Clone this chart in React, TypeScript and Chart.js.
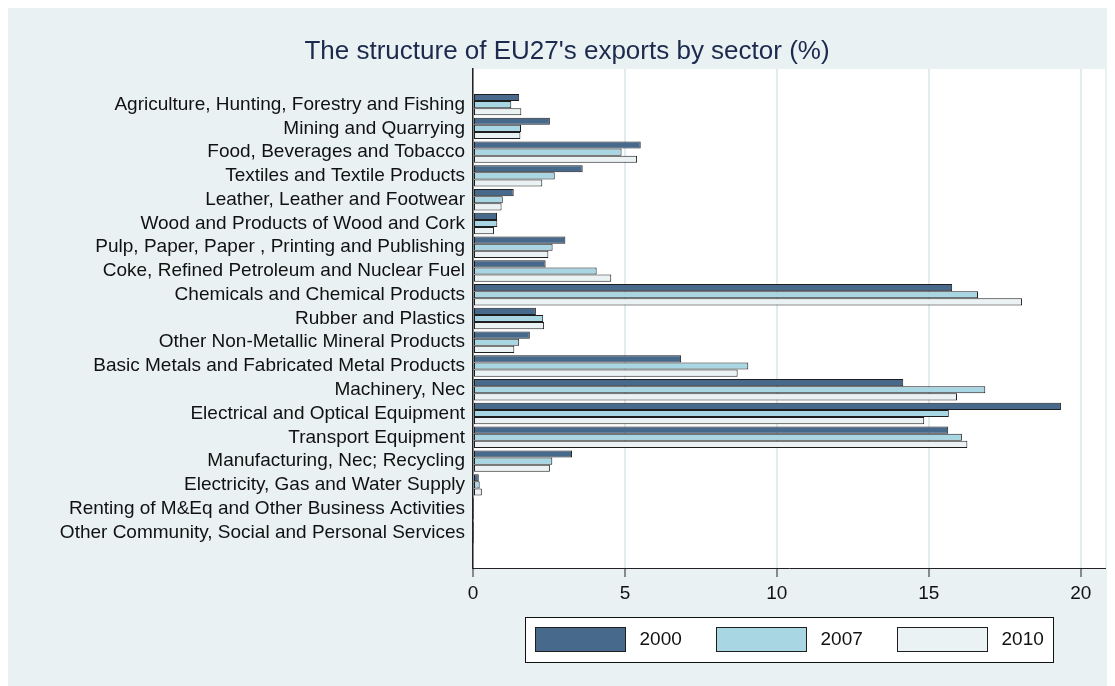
import React, { useEffect, useRef } from "react";
import { Chart, registerables } from "chart.js";

Chart.register(...registerables);

const sectors = [
  "Agriculture, Hunting, Forestry and Fishing",
  "Mining and Quarrying",
  "Food, Beverages and Tobacco",
  "Textiles and Textile Products",
  "Leather, Leather and Footwear",
  "Wood and Products of Wood and Cork",
  "Pulp, Paper, Paper , Printing and Publishing",
  "Coke, Refined Petroleum and Nuclear Fuel",
  "Chemicals and Chemical Products",
  "Rubber and Plastics",
  "Other Non-Metallic Mineral Products",
  "Basic Metals and Fabricated Metal Products",
  "Machinery, Nec",
  "Electrical and Optical Equipment",
  "Transport Equipment",
  "Manufacturing, Nec; Recycling",
  "Electricity, Gas and Water Supply",
  "Renting of M&Eq and Other Business Activities",
  "Other Community, Social and Personal Services",
];

const seriesNames = ["2000", "2007", "2010"];

const v2000 = [1.52, 2.53, 5.52, 3.61, 1.34, 0.79, 3.04, 2.39, 15.77, 2.07, 1.87, 6.85, 14.16, 19.35, 15.64, 3.26, 0.19, 0.01, 0.01];
const v2007 = [1.26, 1.58, 4.89, 2.69, 0.98, 0.8, 2.62, 4.07, 16.62, 2.31, 1.52, 9.06, 16.86, 15.66, 16.09, 2.61, 0.22, 0.01, 0.01];
const v2010 = [1.59, 1.56, 5.4, 2.28, 0.94, 0.69, 2.48, 4.55, 18.07, 2.34, 1.36, 8.71, 15.93, 14.85, 16.27, 2.53, 0.29, 0.01, 0.01];

const xTicks = [0, 5, 10, 15, 20];

const fills = ["#47698b", "#a9d6e3", "#eaf2f4"];
const edge = "#1e1e1e";
const FONT = "'Liberation Sans', Arial, Helvetica, sans-serif";

const bgPlugin = {
  id: "bgPlugin",
  beforeDraw(chart: any) {
    const { ctx, chartArea: ca, width, height } = chart;
    ctx.save();
    ctx.fillStyle = "#e9f1f3";
    ctx.fillRect(0, 0, width, height);
    ctx.fillStyle = "#ffffff";
    ctx.fillRect(ca.left, ca.top, ca.right - ca.left, ca.bottom - ca.top);
    ctx.restore();
  },
};

const legendPlugin = {
  id: "boxLegend",
  afterDraw(chart: any) {
    const { ctx, chartArea: ca } = chart;
    const boxW = 528;
    const boxH = 45;
    const cx = (ca.left + ca.right) / 2;
    const left = Math.round(cx - boxW / 2) + 0.5;
    const top = Math.round(ca.bottom + 49) + 0.5;
    ctx.save();
    ctx.fillStyle = "#ffffff";
    ctx.fillRect(left, top, boxW, boxH);
    ctx.strokeStyle = "#111111";
    ctx.lineWidth = 1;
    ctx.strokeRect(left, top, boxW, boxH);
    chart.data.datasets.forEach((ds: any, i: number) => {
      const sx = left + 10 + i * 181;
      const sy = top + 10;
      ctx.fillStyle = ds.backgroundColor;
      ctx.fillRect(sx, sy, 90, 24);
      ctx.strokeStyle = edge;
      ctx.strokeRect(sx, sy, 90, 24);
      ctx.fillStyle = "#111111";
      ctx.font = `19px ${FONT}`;
      ctx.textBaseline = "middle";
      ctx.textAlign = "left";
      ctx.fillText(ds.label, sx + 104, sy + 12.5);
    });
    ctx.restore();
  },
};

export default function App() {
  const ref = useRef<HTMLCanvasElement | null>(null);

  useEffect(() => {
    document.documentElement.style.overflow = "hidden";
    document.body.style.overflow = "hidden";
    const canvas = ref.current;
    if (!canvas) return;
    const labels = ["", ...sectors, ""];
    const pad = (arr: number[]) => [null, ...arr, null];
    const series = [v2000, v2007, v2010];
    const chart = new Chart(canvas, {
      type: "bar",
      data: {
        labels,
        datasets: series.map((vals, i) => ({
          label: seriesNames[i],
          data: pad(vals) as any,
          backgroundColor: fills[i],
          borderColor: edge,
          borderWidth: 1,
          borderSkipped: false,
          categoryPercentage: 0.9,
          barPercentage: 1.0,
        })),
      },
      options: {
        indexAxis: "y",
        responsive: false,
        animation: false,
        devicePixelRatio: 1,
        layout: { padding: { left: 21, right: 10, top: 0, bottom: 0 } },
        plugins: {
          legend: { display: false },
          tooltip: { enabled: false },
          title: {
            display: true,
            text: "The structure of EU27's exports by sector (%)",
            color: "#1b2a4d",
            font: { family: FONT, size: 26, weight: "normal" },
            padding: { top: 28, bottom: 1.8 },
          },
        },
        scales: {
          x: {
            type: "linear",
            min: 0,
            max: 20.8,
            afterFit(scale: any) {
              scale.height = 118;
            },
            afterBuildTicks(scale: any) {
              scale.ticks = xTicks.map((v) => ({ value: v }));
            },
            ticks: {
              color: "#111111",
              font: { family: FONT, size: 19 },
              padding: 5,
              maxRotation: 0,
            },
            grid: {
              color: "#e2ebee",
              lineWidth: 2,
              drawTicks: true,
              tickLength: 9,
              tickColor: "#222222",
              tickWidth: 1,
            },
            border: { display: true, color: "#222222", width: 1 },
          },
          y: {
            type: "category",
            afterFit(scale: any) {
              scale.width = 444;
            },
            ticks: {
              color: "#111111",
              font: { family: FONT, size: 19 },
              padding: 8,
              autoSkip: false,
            },
            grid: { display: false, drawTicks: false },
            border: { display: true, color: "#222222", width: 1.5 },
          },
        },
      },
      plugins: [bgPlugin, legendPlugin],
    } as any);
    return () => chart.destroy();
  }, []);

  return (
    <div style={{ width: 1107, height: 678 }}>
      <canvas ref={ref} width={1107} height={678} style={{ display: "block" }} />
    </div>
  );
}
